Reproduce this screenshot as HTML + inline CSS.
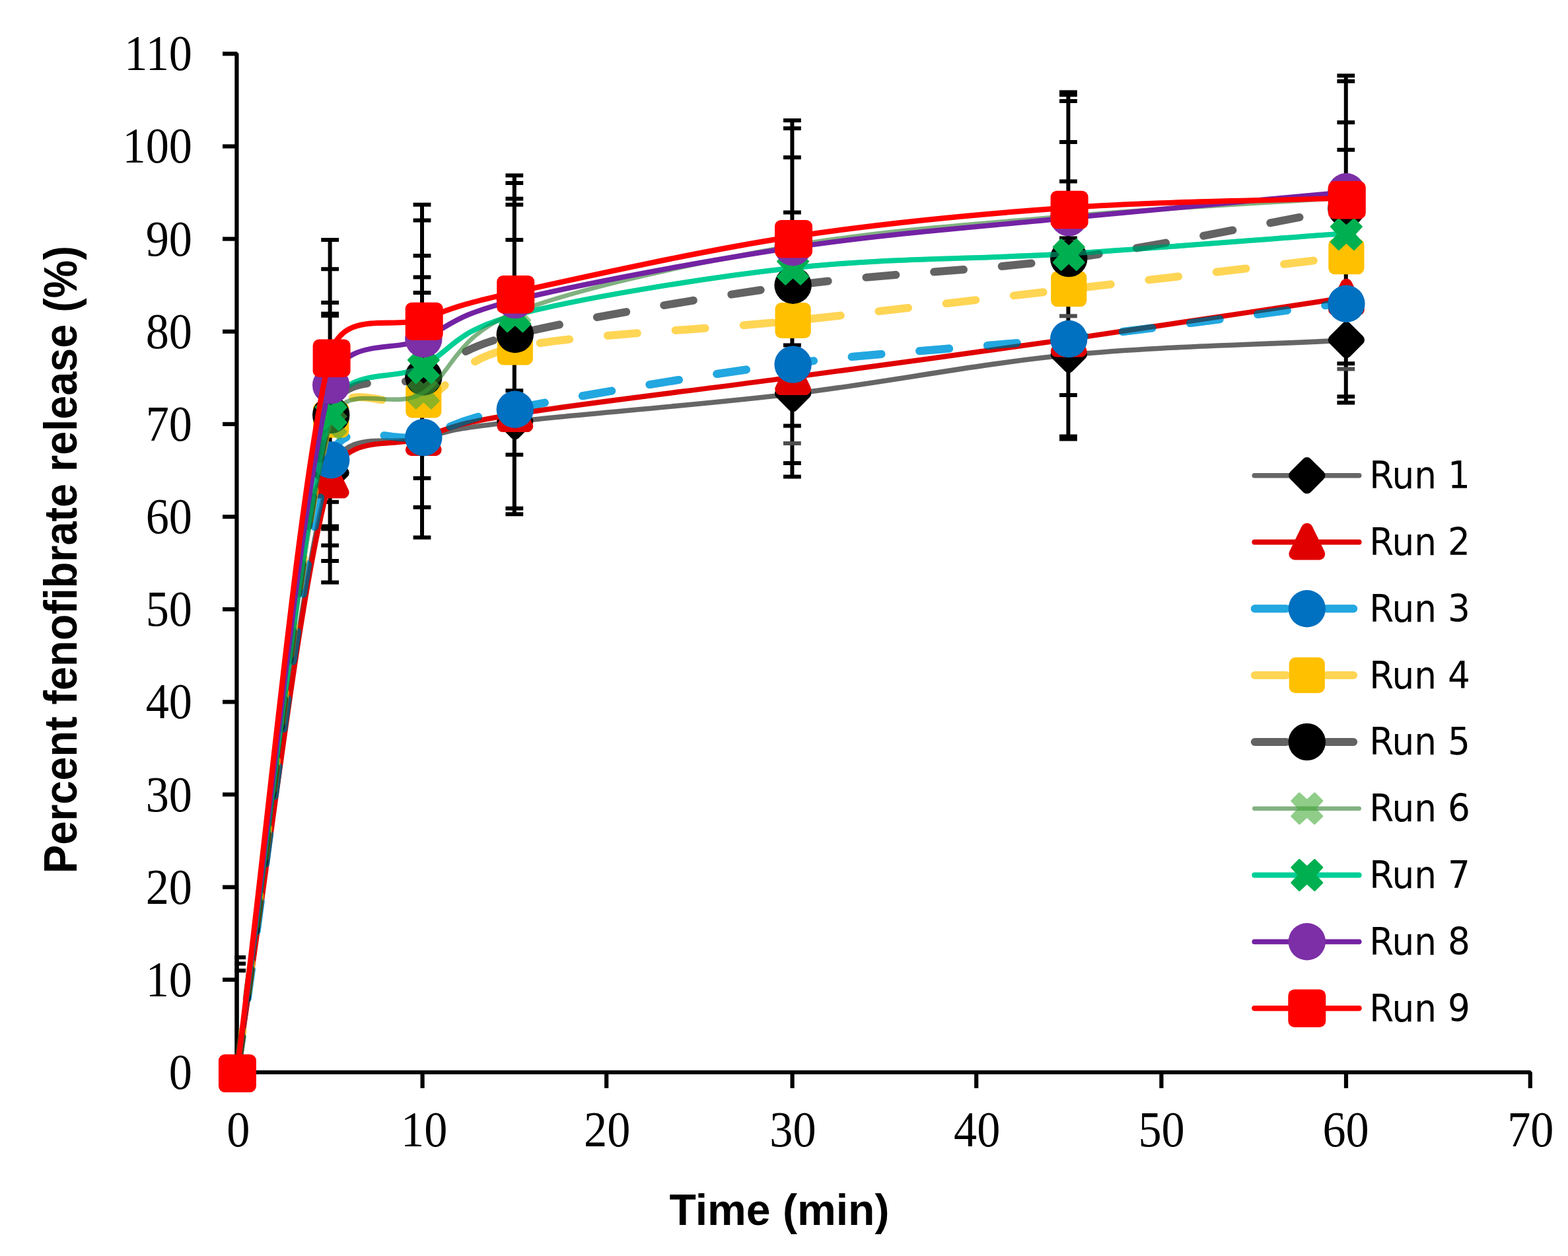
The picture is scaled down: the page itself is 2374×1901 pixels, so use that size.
<!DOCTYPE html>
<html lang="en"><head><meta charset="utf-8"><title>Percent fenofibrate release vs time</title>
<style>html,body{margin:0;padding:0;background:#fff}svg{display:block}.tk{font-family:"Liberation Serif","DejaVu Serif",serif;font-size:76.8px;fill:#000}.ti{font-family:"Liberation Sans","DejaVu Sans",sans-serif;font-weight:bold;font-size:66px;fill:#000}.lg{font-family:"DejaVu Sans Condensed","DejaVu Sans","Liberation Sans",sans-serif;font-stretch:condensed;font-size:57.3px;fill:#000}</style></head><body>
<svg xmlns="http://www.w3.org/2000/svg" width="2374" height="1901" viewBox="0 0 2374 1901">
<defs><clipPath id="plot"><rect x="355.3" y="0" width="2100" height="1623"/></clipPath></defs>
<rect width="2374" height="1901" fill="#fff"/>
<g stroke="#000" stroke-width="6.2" fill="none" stroke-linecap="butt">
<path d="M337 81.3L358.4 81.3L358.4 1623L2316.8 1623L2316.8 1647" stroke-linejoin="bevel"/>
<path d="M337 1623H358.4"/>
<path d="M337 1482.8H358.4"/>
<path d="M337 1342.7H358.4"/>
<path d="M337 1202.5H358.4"/>
<path d="M337 1062.4H358.4"/>
<path d="M337 922.2H358.4"/>
<path d="M337 782.1H358.4"/>
<path d="M337 641.9H358.4"/>
<path d="M337 501.8H358.4"/>
<path d="M337 361.6H358.4"/>
<path d="M337 221.5H358.4"/>
<path d="M639.6 1623V1647"/>
<path d="M918.2 1623V1647"/>
<path d="M1199.6 1623V1647"/>
<path d="M1478.2 1623V1647"/>
<path d="M1758.4 1623V1647"/>
<path d="M2038 1623V1647"/>
</g>
<g class="tk" text-anchor="end">
<text transform="translate(291 1647.9) scale(0.915 1)">0</text>
<text transform="translate(291 1507.8) scale(0.915 1)">10</text>
<text transform="translate(291 1367.6) scale(0.915 1)">20</text>
<text transform="translate(291 1227.5) scale(0.915 1)">30</text>
<text transform="translate(291 1087.3) scale(0.915 1)">40</text>
<text transform="translate(291 947.1) scale(0.915 1)">50</text>
<text transform="translate(291 807) scale(0.915 1)">60</text>
<text transform="translate(291 666.8) scale(0.915 1)">70</text>
<text transform="translate(291 526.7) scale(0.915 1)">80</text>
<text transform="translate(291 386.5) scale(0.915 1)">90</text>
<text transform="translate(291 246.4) scale(0.915 1)">100</text>
<text transform="translate(291 106.2) scale(0.915 1)">110</text>
</g>
<g class="tk" text-anchor="middle">
<text transform="translate(360.7 1734.6) scale(0.915 1)">0</text>
<text transform="translate(642.2 1734.6) scale(0.915 1)">10</text>
<text transform="translate(919.2 1734.6) scale(0.915 1)">20</text>
<text transform="translate(1200.4 1734.6) scale(0.915 1)">30</text>
<text transform="translate(1479.2 1734.6) scale(0.915 1)">40</text>
<text transform="translate(1758.6 1734.6) scale(0.915 1)">50</text>
<text transform="translate(2037.6 1734.6) scale(0.915 1)">60</text>
<text transform="translate(2317.3 1734.6) scale(0.915 1)">70</text>
</g>
<text class="ti" x="1180" y="1853.5" text-anchor="middle" textLength="333" lengthAdjust="spacingAndGlyphs">Time (min)</text>
<text class="ti" style="font-size:70px" transform="translate(116 847) rotate(-90)" text-anchor="middle" textLength="950" lengthAdjust="spacingAndGlyphs">Percent fenofibrate release (%)</text>
<g clip-path="url(#plot)" stroke="#000" stroke-width="6" fill="none">
<path d="M358.6 1449V1623M345.2 1449H372M345.2 1458.5H372M345.2 1469H372"/>
<path d="M499.6 363.1V881.6M486.2 363.1H513M486.2 407.3H513M486.2 458H513M486.2 474.7H513M486.2 477.8H513M486.2 759.8H513M486.2 796.5H513M486.2 800.6H513M486.2 825.5H513M486.2 849H513M486.2 881.6H513"/>
<path d="M639 309.8V813.6M625.6 309.8H652.4M625.6 333.5H652.4M625.6 386.9H652.4M625.6 419.6H652.4M625.6 443.1H652.4M625.6 723.8H652.4M625.6 767.7H652.4M625.6 813.6H652.4"/>
<path d="M778.8 265.5V778.3M765.4 265.5H792.2M765.4 277.1H792.2M765.4 300.8H792.2M765.4 309.8H792.2M765.4 363.1H792.2M765.4 591.2H792.2M765.4 688.2H792.2M765.4 769.4H792.2M765.4 778.3H792.2"/>
<path d="M1199.4 182.3V721.6M1186 182.3H1212.8M1186 194.2H1212.8M1186 238.3H1212.8M1186 321.4H1212.8M1186 522.6H1212.8M1186 644.6H1212.8M1186 701H1212.8M1186 721.6H1212.8"/>
<path d="M1186 671H1212.8" stroke="#4d4d4d"/>
<path d="M1617.4 139.5V664.5M1604 139.5H1630.8M1604 143.5H1630.8M1604 152.9H1630.8M1604 215H1630.8M1604 274.4H1630.8M1604 360.6H1630.8M1604 598.1H1630.8M1604 660.5H1630.8M1604 664.5H1630.8"/>
<path d="M1604 478.3H1630.8" stroke="#4d4d4d"/>
<path d="M2037.8 114.5V609.5M2024.4 114.5H2051.2M2024.4 123H2051.2M2024.4 185.3H2051.2M2024.4 226.7H2051.2M2024.4 550.2H2051.2M2024.4 600.3H2051.2M2024.4 609.5H2051.2"/>
<path d="M2024.4 558.5H2051.2" stroke="#4d4d4d"/>
</g>
<g id="r1">
<path d="M358.6 1623C405.6 1320.7 452.9 875.9 499.6 716C520.5 644.5 592.5 676.4 639 663.5C685.5 650.5 685.4 649.5 778.8 638.2C872.2 627 1059.6 613 1199.4 596.2C1339.2 579.4 1477.7 550.9 1617.4 537.3C1757.1 523.8 1897.7 522.4 2037.8 514.9" fill="none" stroke="#000000" stroke-width="7.6" stroke-linejoin="round" stroke-linecap="round" opacity="0.6"/>
<path d="M359.4 1604.9L379 1624.5L359.4 1644.1L339.8 1624.5Z" stroke-width="16" stroke-linejoin="round" fill="#000000" stroke="#000000"/>
<path d="M501.2 695.9L520.8 715.5L501.2 735.1L481.6 715.5Z" stroke-width="16" stroke-linejoin="round" fill="#000000" stroke="#000000"/>
<path d="M641.3 643.4L660.9 663L641.3 682.6L621.7 663Z" stroke-width="16" stroke-linejoin="round" fill="#000000" stroke="#000000"/>
<path d="M779.8 618.1L799.4 637.7L779.8 657.3L760.2 637.7Z" stroke-width="16" stroke-linejoin="round" fill="#000000" stroke="#000000"/>
<path d="M1200.6 576.1L1220.2 595.7L1200.6 615.3L1181 595.7Z" stroke-width="16" stroke-linejoin="round" fill="#000000" stroke="#000000"/>
<path d="M1618.2 517.2L1637.8 536.8L1618.2 556.4L1598.6 536.8Z" stroke-width="16" stroke-linejoin="round" fill="#000000" stroke="#000000"/>
<path d="M2038.4 494.8L2058 514.4L2038.4 534L2018.8 514.4Z" stroke-width="16" stroke-linejoin="round" fill="#000000" stroke="#000000"/>
</g>
<g id="r2">
<path d="M358.6 1623C405.6 1324.4 452.9 887.3 499.6 727.2C521.1 653.5 592.5 679.5 639 662.8C685.5 646.1 685.4 642.3 778.8 627C872.2 611.7 1059.6 589.9 1199.4 571C1339.2 552.1 1477.7 533.6 1617.4 513.5C1757.1 493.4 1897.7 471.5 2037.8 450.4" fill="none" stroke="#e00000" stroke-width="7.8" stroke-linejoin="round" stroke-linecap="round"/>
<path d="M359.4 1605.3L377.8 1643.1L341 1643.1Z" stroke-width="18" stroke-linejoin="round" fill="#e00000" stroke="#e00000"/>
<path d="M501.2 707.5L519.6 745.3L482.8 745.3Z" stroke-width="18" stroke-linejoin="round" fill="#e00000" stroke="#e00000"/>
<path d="M641.3 643.1L659.7 680.9L622.9 680.9Z" stroke-width="18" stroke-linejoin="round" fill="#e00000" stroke="#e00000"/>
<path d="M779.8 607.3L798.2 645.1L761.4 645.1Z" stroke-width="18" stroke-linejoin="round" fill="#e00000" stroke="#e00000"/>
<path d="M1200.6 551.3L1219 589.1L1182.2 589.1Z" stroke-width="18" stroke-linejoin="round" fill="#e00000" stroke="#e00000"/>
<path d="M1618.2 493.8L1636.6 531.6L1599.8 531.6Z" stroke-width="18" stroke-linejoin="round" fill="#e00000" stroke="#e00000"/>
<path d="M2038.4 430.7L2056.8 468.5L2020 468.5Z" stroke-width="18" stroke-linejoin="round" fill="#e00000" stroke="#e00000"/>
</g>
<g id="r3">
<path d="M358.6 1623C405.6 1313.6 452.9 855.2 499.6 694.8C519.7 625.9 592.5 673.4 639 660.6C685.5 647.9 685.4 636.7 778.8 618.3C872.2 599.9 1059.6 567.9 1199.4 550.1C1339.2 532.3 1477.7 526.8 1617.4 511.5C1757.1 496.2 1897.7 476 2037.8 458.3" fill="none" stroke="#22a7e0" stroke-width="12" stroke-linejoin="round" stroke-linecap="round" stroke-dasharray="45.0 58.0" stroke-dashoffset="-10" style="mix-blend-mode:multiply"/><path d="M358.6 1623C405.6 1313.6 452.9 855.2 499.6 694.8C519.7 625.9 592.5 673.4 639 660.6C685.5 647.9 685.4 636.7 778.8 618.3C872.2 599.9 1059.6 567.9 1199.4 550.1C1339.2 532.3 1477.7 526.8 1617.4 511.5C1757.1 496.2 1897.7 476 2037.8 458.3" fill="none" stroke="#22a7e0" stroke-width="12" stroke-linejoin="round" stroke-linecap="round" stroke-dasharray="45.0 58.0" stroke-dashoffset="-10" opacity="0.5"/>
<circle cx="359.4" cy="1624.5" r="28.2" fill="#0070c0"/>
<circle cx="501.2" cy="696.3" r="28.2" fill="#0070c0"/>
<circle cx="641.3" cy="662.1" r="28.2" fill="#0070c0"/>
<circle cx="779.8" cy="619.8" r="28.2" fill="#0070c0"/>
<circle cx="1200.6" cy="551.6" r="28.2" fill="#0070c0"/>
<circle cx="1618.2" cy="513" r="28.2" fill="#0070c0"/>
<circle cx="2038.4" cy="459.8" r="28.2" fill="#0070c0"/>
</g>
<g id="r4">
<path d="M358.6 1623C405.6 1294 452.9 805.6 499.6 636.1C518.6 567.4 592.5 624.3 639 606C685.5 587.7 685.4 546.2 778.8 526.1C872.2 506 1059.6 500.2 1199.4 485.5C1339.2 470.8 1477.7 453.9 1617.4 437.8C1757.1 421.7 1897.7 405.1 2037.8 388.8" fill="none" stroke="#ffc000" stroke-width="12" stroke-linejoin="round" stroke-linecap="round" stroke-dasharray="45.0 58.0" stroke-dashoffset="-19" opacity="0.67"/>
<rect x="332.3" y="1597.5" width="54.2" height="54" rx="9.5" fill="#ffc000"/>
<rect x="474.1" y="608.6" width="54.2" height="54" rx="9.5" fill="#ffc000"/>
<rect x="614.2" y="578.5" width="54.2" height="54" rx="9.5" fill="#ffc000"/>
<rect x="752.7" y="498.6" width="54.2" height="54" rx="9.5" fill="#ffc000"/>
<rect x="1173.5" y="458" width="54.2" height="54" rx="9.5" fill="#ffc000"/>
<rect x="1591.1" y="410.3" width="54.2" height="54" rx="9.5" fill="#ffc000"/>
<rect x="2011.3" y="361.3" width="54.2" height="54" rx="9.5" fill="#ffc000"/>
</g>
<g id="r5">
<path d="M358.6 1623C405.6 1291.5 452.9 803.8 499.6 628.4C519 555.6 592.5 591.3 639 571C685.5 550.7 685.4 529.6 778.8 506.5C872.2 483.4 1059.6 451.4 1199.4 432.2C1339.2 413.1 1477.7 411 1617.4 391.6C1757.1 372.2 1897.7 341.1 2037.8 315.9" fill="none" stroke="#000000" stroke-width="12" stroke-linejoin="round" stroke-linecap="round" stroke-dasharray="45.0 58.0" stroke-dashoffset="-9.5" opacity="0.61"/>
<circle cx="359.4" cy="1624.5" r="28.2" fill="#000000"/>
<circle cx="501.2" cy="627.9" r="28.2" fill="#000000"/>
<circle cx="641.3" cy="570.5" r="28.2" fill="#000000"/>
<circle cx="779.8" cy="506" r="28.2" fill="#000000"/>
<circle cx="1200.6" cy="431.7" r="28.2" fill="#000000"/>
<circle cx="1618.2" cy="391.1" r="28.2" fill="#000000"/>
<circle cx="2038.4" cy="315.4" r="28.2" fill="#000000"/>
</g>
<g id="r6">
<path d="M358.6 1623C405.6 1296.2 452.9 813.7 499.6 642.4C519 571.5 592.5 623.6 639 595.5C685.5 567.4 685.4 510.8 778.8 473.6C872.2 436.3 1059.6 396.4 1199.4 372C1339.2 347.6 1477.7 339.3 1617.4 327.1C1757.1 315 1897.7 308.4 2037.8 299.1" fill="none" stroke="#2d7d2d" stroke-width="6.6" stroke-linejoin="round" stroke-linecap="round" opacity="0.6"/>
<path d="M347.8 1601.2L359.4 1611.9L371 1601.2L382.7 1612.9L372 1624.5L382.7 1636.1L371 1647.8L359.4 1637.1L347.8 1647.8L336.1 1636.1L346.8 1624.5L336.1 1612.9Z" stroke-width="2.4" stroke-linejoin="round" fill="#46ac3c" stroke="#46ac3c" opacity="0.6"/>
<path d="M489.6 618.6L501.2 629.3L512.8 618.6L524.5 630.3L513.8 641.9L524.5 653.5L512.8 665.2L501.2 654.5L489.6 665.2L477.9 653.5L488.6 641.9L477.9 630.3Z" stroke-width="2.4" stroke-linejoin="round" fill="#46ac3c" stroke="#46ac3c" opacity="0.6"/>
<path d="M629.7 571.7L641.3 582.4L652.9 571.7L664.6 583.4L653.9 595L664.6 606.6L652.9 618.3L641.3 607.6L629.7 618.3L618 606.6L628.7 595L618 583.4Z" stroke-width="2.4" stroke-linejoin="round" fill="#46ac3c" stroke="#46ac3c" opacity="0.6"/>
<path d="M768.2 449.8L779.8 460.5L791.4 449.8L803.1 461.5L792.4 473.1L803.1 484.7L791.4 496.4L779.8 485.7L768.2 496.4L756.5 484.7L767.2 473.1L756.5 461.5Z" stroke-width="2.4" stroke-linejoin="round" fill="#46ac3c" stroke="#46ac3c" opacity="0.6"/>
<path d="M1189 348.2L1200.6 358.9L1212.2 348.2L1223.9 359.9L1213.2 371.5L1223.9 383.1L1212.2 394.8L1200.6 384.1L1189 394.8L1177.3 383.1L1188 371.5L1177.3 359.9Z" stroke-width="2.4" stroke-linejoin="round" fill="#46ac3c" stroke="#46ac3c" opacity="0.6"/>
<path d="M1606.6 303.3L1618.2 314L1629.8 303.3L1641.5 315L1630.8 326.6L1641.5 338.2L1629.8 349.9L1618.2 339.2L1606.6 349.9L1594.9 338.2L1605.6 326.6L1594.9 315Z" stroke-width="2.4" stroke-linejoin="round" fill="#46ac3c" stroke="#46ac3c" opacity="0.6"/>
<path d="M2026.8 275.3L2038.4 286L2050 275.3L2061.7 287L2051 298.6L2061.7 310.2L2050 321.9L2038.4 311.2L2026.8 321.9L2015.1 310.2L2025.8 298.6L2015.1 287Z" stroke-width="2.4" stroke-linejoin="round" fill="#46ac3c" stroke="#46ac3c" opacity="0.6"/>
</g>
<g id="r7">
<path d="M358.6 1623C405.6 1290.8 452.9 804.4 499.6 626.4C519.5 550.7 592.5 579.8 639 555C685.5 530.1 685.4 502.2 778.8 477.3C872.2 452.4 1059.6 421.3 1199.4 405.7C1339.2 390.1 1477.7 392.7 1617.4 384C1757.1 375.2 1897.7 363.4 2037.8 353.1" fill="none" stroke="#00cf96" stroke-width="7.8" stroke-linejoin="round" stroke-linecap="round" style="mix-blend-mode:multiply"/><path d="M358.6 1623C405.6 1290.8 452.9 804.4 499.6 626.4C519.5 550.7 592.5 579.8 639 555C685.5 530.1 685.4 502.2 778.8 477.3C872.2 452.4 1059.6 421.3 1199.4 405.7C1339.2 390.1 1477.7 392.7 1617.4 384C1757.1 375.2 1897.7 363.4 2037.8 353.1" fill="none" stroke="#00cf96" stroke-width="7.8" stroke-linejoin="round" stroke-linecap="round" opacity="0.5"/>
<path d="M347.8 1601.2L359.4 1611.9L371 1601.2L382.7 1612.9L372 1624.5L382.7 1636.1L371 1647.8L359.4 1637.1L347.8 1647.8L336.1 1636.1L346.8 1624.5L336.1 1612.9Z" stroke-width="2.4" stroke-linejoin="round" fill="#00b050" stroke="#00b050"/>
<path d="M489.6 604.6L501.2 615.3L512.8 604.6L524.5 616.3L513.8 627.9L524.5 639.5L512.8 651.2L501.2 640.5L489.6 651.2L477.9 639.5L488.6 627.9L477.9 616.3Z" stroke-width="2.4" stroke-linejoin="round" fill="#00b050" stroke="#00b050"/>
<path d="M629.7 533.2L641.3 543.9L652.9 533.2L664.6 544.9L653.9 556.5L664.6 568.1L652.9 579.8L641.3 569.1L629.7 579.8L618 568.1L628.7 556.5L618 544.9Z" stroke-width="2.4" stroke-linejoin="round" fill="#00b050" stroke="#00b050"/>
<path d="M768.2 455.5L779.8 466.2L791.4 455.5L803.1 467.2L792.4 478.8L803.1 490.4L791.4 502.1L779.8 491.4L768.2 502.1L756.5 490.4L767.2 478.8L756.5 467.2Z" stroke-width="2.4" stroke-linejoin="round" fill="#00b050" stroke="#00b050"/>
<path d="M1189 383.9L1200.6 394.6L1212.2 383.9L1223.9 395.6L1213.2 407.2L1223.9 418.8L1212.2 430.5L1200.6 419.8L1189 430.5L1177.3 418.8L1188 407.2L1177.3 395.6Z" stroke-width="2.4" stroke-linejoin="round" fill="#00b050" stroke="#00b050"/>
<path d="M1606.6 362.2L1618.2 372.9L1629.8 362.2L1641.5 373.9L1630.8 385.5L1641.5 397.1L1629.8 408.8L1618.2 398.1L1606.6 408.8L1594.9 397.1L1605.6 385.5L1594.9 373.9Z" stroke-width="2.4" stroke-linejoin="round" fill="#00b050" stroke="#00b050"/>
<path d="M2026.8 331.3L2038.4 342L2050 331.3L2061.7 343L2051 354.6L2061.7 366.2L2050 377.9L2038.4 367.2L2026.8 377.9L2015.1 366.2L2025.8 354.6L2015.1 343Z" stroke-width="2.4" stroke-linejoin="round" fill="#00b050" stroke="#00b050"/>
</g>
<g id="r8">
<path d="M358.6 1623C405.6 1276.5 452.9 768.5 499.6 583.6C518.7 508 592.5 535 639 513.5C685.5 492 685.4 477.8 778.8 454.6C872.2 431.5 1059.6 395.6 1199.4 374.8C1339.2 354 1477.7 343.9 1617.4 329.9C1757.1 315.9 1897.7 303.8 2037.8 290.7" fill="none" stroke="#7322a3" stroke-width="7.8" stroke-linejoin="round" stroke-linecap="round"/>
<circle cx="359.4" cy="1624.5" r="28.2" fill="#7c2fa6"/>
<circle cx="501.2" cy="583.1" r="28.2" fill="#7c2fa6"/>
<circle cx="641.3" cy="513" r="28.2" fill="#7c2fa6"/>
<circle cx="779.8" cy="454.1" r="28.2" fill="#7c2fa6"/>
<circle cx="1200.6" cy="374.3" r="28.2" fill="#7c2fa6"/>
<circle cx="1618.2" cy="329.4" r="28.2" fill="#7c2fa6"/>
<circle cx="2038.4" cy="290.2" r="28.2" fill="#7c2fa6"/>
</g>
<g id="r9">
<path d="M358.6 1623C405.6 1261.7 452.9 728.9 499.6 539C517.5 466.1 592.5 499.3 639 483.2C685.5 467.1 685.4 463.3 778.8 442.5C872.2 421.8 1059.6 379.8 1199.4 358.4C1339.2 337.1 1477.7 324.1 1617.4 314.3C1757.1 304.5 1897.7 304.5 2037.8 299.6" fill="none" stroke="#ff0000" stroke-width="8.2" stroke-linejoin="round" stroke-linecap="round"/>
<rect x="330.9" y="1595.8" width="57" height="57.4" rx="9.5" fill="#ff0000"/>
<rect x="473.6" y="513.5" width="57" height="57.4" rx="9.5" fill="#ff0000"/>
<rect x="613.7" y="457.7" width="57" height="57.4" rx="9.5" fill="#ff0000"/>
<rect x="752.2" y="417" width="57" height="57.4" rx="9.5" fill="#ff0000"/>
<rect x="1173" y="332.9" width="57" height="57.4" rx="9.5" fill="#ff0000"/>
<rect x="1590.6" y="288.8" width="57" height="57.4" rx="9.5" fill="#ff0000"/>
<rect x="2010.8" y="274.1" width="57" height="57.4" rx="9.5" fill="#ff0000"/>
</g>
<g id="legend">
<path d="M1899.3 719.7H2057.7" fill="none" stroke="#000000" stroke-width="7.6" stroke-linejoin="round" stroke-linecap="round" opacity="0.6"/>
<path d="M1978.8 700.1L1998.4 719.7L1978.8 739.3L1959.2 719.7Z" stroke-width="16" stroke-linejoin="round" fill="#000000" stroke="#000000"/>
<text class="lg" x="2073.2" y="739.1" textLength="152.6" lengthAdjust="spacingAndGlyphs">Run 1</text>
<path d="M1899.3 820.5H2057.7" fill="none" stroke="#e00000" stroke-width="7.8" stroke-linejoin="round" stroke-linecap="round"/>
<path d="M1978.8 800.7L1997.2 838.5L1960.4 838.5Z" stroke-width="18" stroke-linejoin="round" fill="#e00000" stroke="#e00000"/>
<text class="lg" x="2073.2" y="839.9" textLength="152.6" lengthAdjust="spacingAndGlyphs">Run 2</text>
<path d="M1899.8 921.3H1947.3 M2008.8 921.3H2049.2" fill="none" stroke="#22a7e0" stroke-width="12" stroke-linejoin="round" stroke-linecap="round" style="mix-blend-mode:multiply"/><path d="M1899.8 921.3H1947.3 M2008.8 921.3H2049.2" fill="none" stroke="#22a7e0" stroke-width="12" stroke-linejoin="round" stroke-linecap="round" opacity="0.5"/>
<circle cx="1978.8" cy="921.3" r="28.2" fill="#0070c0"/>
<text class="lg" x="2073.2" y="940.7" textLength="152.6" lengthAdjust="spacingAndGlyphs">Run 3</text>
<path d="M1899.8 1022.1H1947.3 M2008.8 1022.1H2049.2" fill="none" stroke="#ffc000" stroke-width="12" stroke-linejoin="round" stroke-linecap="round" opacity="0.67"/>
<rect x="1951.7" y="995.1" width="54.2" height="54" rx="9.5" fill="#ffc000"/>
<text class="lg" x="2073.2" y="1041.5" textLength="152.6" lengthAdjust="spacingAndGlyphs">Run 4</text>
<path d="M1899.8 1122.9H1947.3 M2008.8 1122.9H2049.2" fill="none" stroke="#000000" stroke-width="12" stroke-linejoin="round" stroke-linecap="round" opacity="0.61"/>
<circle cx="1978.8" cy="1122.9" r="28.2" fill="#000000"/>
<text class="lg" x="2073.2" y="1142.3" textLength="152.6" lengthAdjust="spacingAndGlyphs">Run 5</text>
<path d="M1899.3 1223.7H2057.7" fill="none" stroke="#2d7d2d" stroke-width="6.6" stroke-linejoin="round" stroke-linecap="round" opacity="0.6"/>
<path d="M1967.2 1200.4L1978.8 1211.1L1990.4 1200.4L2002.1 1212.1L1991.4 1223.7L2002.1 1235.3L1990.4 1247L1978.8 1236.3L1967.2 1247L1955.5 1235.3L1966.2 1223.7L1955.5 1212.1Z" stroke-width="2.4" stroke-linejoin="round" fill="#46ac3c" stroke="#46ac3c" opacity="0.6"/>
<text class="lg" x="2073.2" y="1243.1" textLength="152.6" lengthAdjust="spacingAndGlyphs">Run 6</text>
<path d="M1899.3 1324.5H2057.7" fill="none" stroke="#00cf96" stroke-width="7.8" stroke-linejoin="round" stroke-linecap="round" style="mix-blend-mode:multiply"/><path d="M1899.3 1324.5H2057.7" fill="none" stroke="#00cf96" stroke-width="7.8" stroke-linejoin="round" stroke-linecap="round" opacity="0.5"/>
<path d="M1967.2 1301.2L1978.8 1311.9L1990.4 1301.2L2002.1 1312.9L1991.4 1324.5L2002.1 1336.1L1990.4 1347.8L1978.8 1337.1L1967.2 1347.8L1955.5 1336.1L1966.2 1324.5L1955.5 1312.9Z" stroke-width="2.4" stroke-linejoin="round" fill="#00b050" stroke="#00b050"/>
<text class="lg" x="2073.2" y="1343.9" textLength="152.6" lengthAdjust="spacingAndGlyphs">Run 7</text>
<path d="M1899.3 1425.3H2057.7" fill="none" stroke="#7322a3" stroke-width="7.8" stroke-linejoin="round" stroke-linecap="round"/>
<circle cx="1978.8" cy="1425.3" r="28.2" fill="#7c2fa6"/>
<text class="lg" x="2073.2" y="1444.7" textLength="152.6" lengthAdjust="spacingAndGlyphs">Run 8</text>
<path d="M1899.3 1526.1H2057.7" fill="none" stroke="#ff0000" stroke-width="8.2" stroke-linejoin="round" stroke-linecap="round"/>
<rect x="1950.3" y="1497.4" width="57" height="57.4" rx="9.5" fill="#ff0000"/>
<text class="lg" x="2073.2" y="1545.5" textLength="152.6" lengthAdjust="spacingAndGlyphs">Run 9</text>
</g>
</svg></body></html>
